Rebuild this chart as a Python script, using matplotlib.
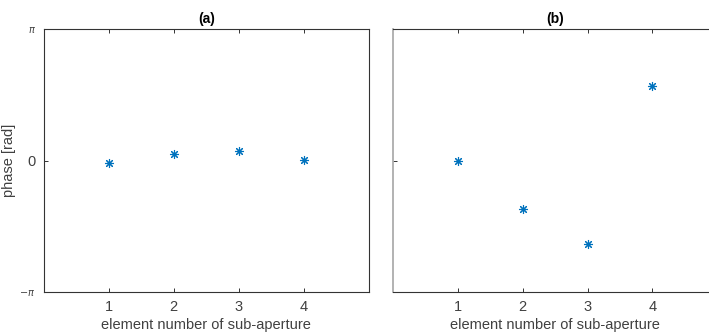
import numpy as np
import matplotlib
matplotlib.use("Agg")
import matplotlib.pyplot as plt

# ---- data ----
elements = [1, 2, 3, 4]
phase_a = [-0.07, 0.15, 0.23, 0.01]
phase_b = [-0.02, -1.16, -1.99, 1.77]

titles = ["(a)", "(b)"]
xlabel = "element number of sub-aperture"
ylabel = "phase [rad]"

matlab_blue = (0.0, 0.447, 0.741)
text_col = (0.25, 0.25, 0.25)
spine_col = (0.2, 0.2, 0.2)

plt.rcParams["font.family"] = ["Liberation Sans", "DejaVu Sans"]

fig = plt.figure(figsize=(7.09, 3.36), dpi=100)

W, H = 709, 336
ax_w = 324.5 / W
ax_h = (292 - 29) / H
bottom = 1 - 292 / H
lefts = [44 / W, 392.8 / W]

for i, (left, vals, title) in enumerate(zip(lefts, [phase_a, phase_b], titles)):
    ax = fig.add_axes([left, bottom, ax_w, ax_h])
    ax.plot(elements, vals, linestyle="none", marker=(8, 2, 0),
            markersize=6.5, markeredgewidth=0.8, color=matlab_blue)
    ax.set_xlim(0, 5)
    ax.set_ylim(-np.pi, np.pi)
    ax.set_xticks(elements)
    ax.set_yticks([-np.pi, 0, np.pi])
    ax.tick_params(direction="in", length=3, width=0.7, colors=spine_col,
                   top=True, right=False, labelsize=10.5,
                   labelcolor=text_col, pad=6)
    for s in ax.spines.values():
        s.set_color(spine_col)
        s.set_linewidth(0.8)
    ax.set_xlabel(xlabel, fontsize=10.5, color=text_col, labelpad=3)
    ax.set_title(title, fontsize=10, fontweight="bold", color="black", pad=4)
    if i == 0:
        ax.set_yticklabels([r"$-\pi$", "0", r"$\pi$"])
        labs = ax.get_yticklabels()
        labs[0].set_fontsize(7)
        labs[2].set_fontsize(7)
        ax.set_ylabel(ylabel, fontsize=10.5, color=text_col)
        ax.yaxis.set_label_coords(-0.086, 0.5)
    else:
        ax.set_yticklabels([])
        ax.spines["left"].set_color((0.65, 0.65, 0.65))
        ax.spines["left"].set_linewidth(1.2)

fig.savefig("out.png", dpi=100)
